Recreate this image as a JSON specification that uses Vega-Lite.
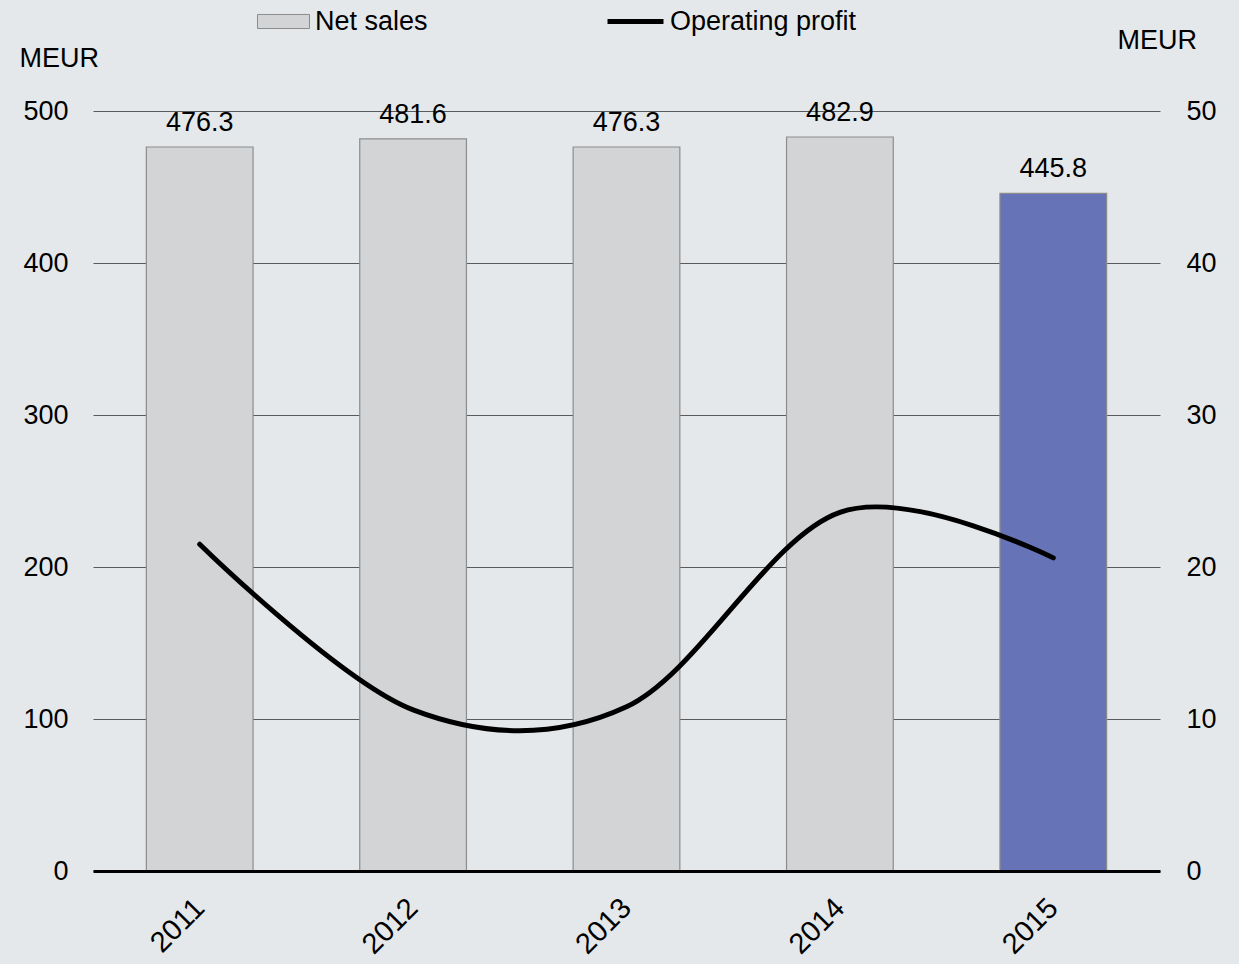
{
  "$schema": "https://vega.github.io/schema/vega-lite/v6.json",
  "width": 1067,
  "height": 760,
  "autosize": {"type": "none"},
  "padding": {"left": 93, "top": 111, "right": 79, "bottom": 93},
  "background": "#e5e8ea",
  "config": {
    "font": "Liberation Sans",
    "view": {"stroke": null},
    "axis": {"labelColor": "#000000", "labelFontSize": 27, "titleColor": "#000000", "titleFontSize": 27, "titleFontWeight": "normal"},
    "legend": {"labelColor": "#000000", "labelFontSize": 27, "labelLimit": 400, "padding": 0}
  },
  "data": {
    "values": [
      {"year": "2011", "net_sales": 476.3, "operating_profit": 21.5},
      {"year": "2012", "net_sales": 481.6, "operating_profit": 10.6},
      {"year": "2013", "net_sales": 476.3, "operating_profit": 10.8},
      {"year": "2014", "net_sales": 482.9, "operating_profit": 23.6},
      {"year": "2015", "net_sales": 445.8, "operating_profit": 20.6}
    ]
  },
  "encoding": {
    "x": {
      "field": "year",
      "type": "nominal",
      "sort": null,
      "scale": {"paddingInner": 0.5, "paddingOuter": 0.25},
      "axis": {
        "title": null,
        "labelAngle": -45,
        "labelAlign": "right",
        "labelBaseline": "middle",
        "labelFontSize": 29,
        "labelPadding": 32,
        "ticks": false,
        "domainColor": "#000000",
        "domainWidth": 3,
        "zindex": 1
      }
    }
  },
  "layer": [
    {
      "encoding": {
        "y": {
          "field": "net_sales",
          "type": "quantitative",
          "scale": {"domain": [0, 500]},
          "axis": {
            "orient": "left",
            "values": [0, 100, 200, 300, 400, 500],
            "grid": true,
            "gridColor": "#5a5a5a",
            "gridWidth": 1,
            "domain": false,
            "ticks": false,
            "labelPadding": 25,
            "title": "MEUR",
            "titleAngle": 0,
            "titleAlign": "left",
            "titleBaseline": "alphabetic",
            "titleX": -74,
            "titleY": -45
          }
        }
      },
      "layer": [
        {
          "mark": {"type": "bar", "stroke": "#8c8c8c", "strokeWidth": 1.2},
          "encoding": {
            "fill": {
              "condition": {"test": "datum.year === '2015'", "value": "#6673b6"},
              "datum": "Net sales",
              "type": "nominal",
              "scale": {"range": ["#d3d4d6"]},
              "legend": {
                "orient": "none",
                "legendX": 164,
                "legendY": -116,
                "title": null,
                "symbolType": "M-1,-0.27H1V0.27H-1Z",
                "symbolSize": 2704,
                "symbolStrokeColor": "#8c8c8c",
                "symbolStrokeWidth": 1,
                "labelOffset": 5
              }
            }
          }
        },
        {
          "mark": {"type": "text", "fontSize": 27, "baseline": "alphabetic", "dy": -16, "color": "#000000"},
          "encoding": {
            "text": {"field": "net_sales", "type": "quantitative", "format": ".1f"}
          }
        }
      ]
    },
    {
      "mark": {"type": "line", "interpolate": "cardinal", "strokeWidth": 5, "strokeCap": "round"},
      "encoding": {
        "y": {
          "field": "operating_profit",
          "type": "quantitative",
          "scale": {"domain": [0, 50]},
          "axis": {
            "orient": "right",
            "values": [0, 10, 20, 30, 40, 50],
            "grid": false,
            "domain": false,
            "ticks": false,
            "labelPadding": 26,
            "title": "MEUR",
            "titleAngle": 0,
            "titleAlign": "left",
            "titleBaseline": "alphabetic",
            "titleX": -43,
            "titleY": -63
          }
        },
        "stroke": {
          "datum": "Operating profit",
          "type": "nominal",
          "scale": {"range": ["#000000"]},
          "legend": {
            "orient": "none",
            "legendX": 512,
            "legendY": -120,
            "title": null,
            "symbolType": "stroke",
            "symbolSize": 3136,
            "symbolStrokeWidth": 5,
            "labelOffset": 4
          }
        }
      }
    }
  ],
  "resolve": {"scale": {"y": "independent"}}
}
